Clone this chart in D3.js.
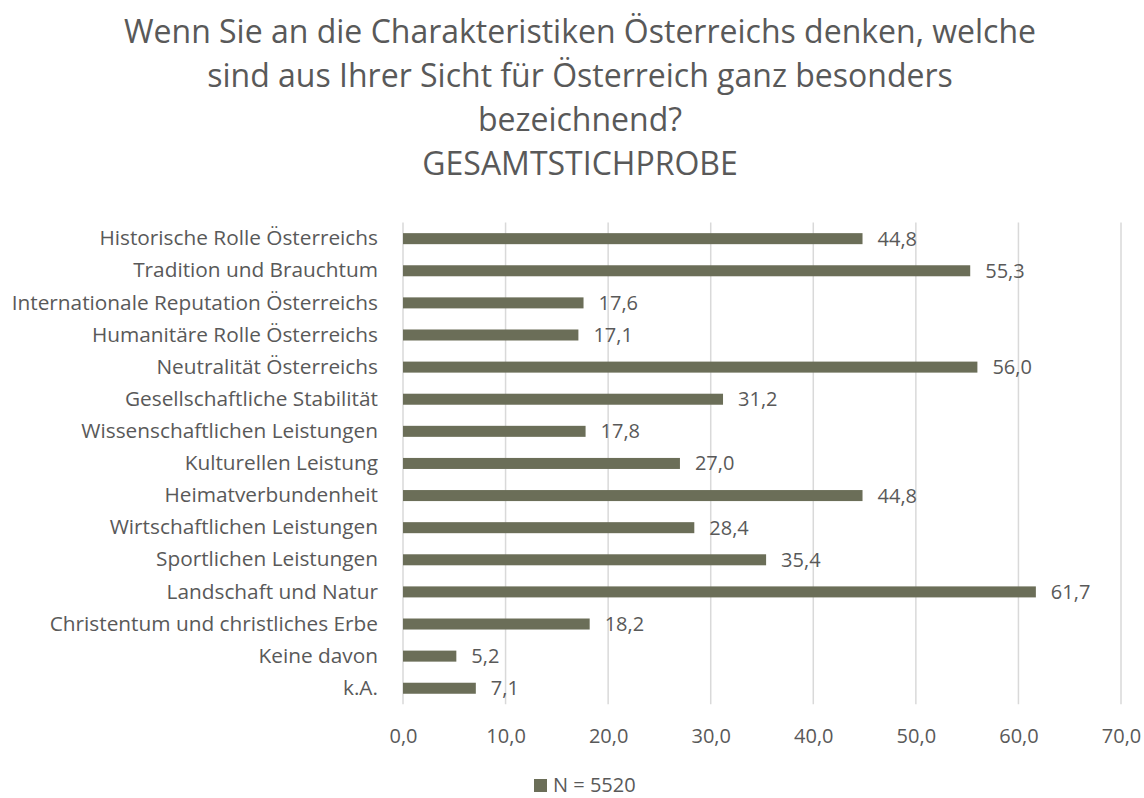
<!DOCTYPE html>
<html>
<head>
<meta charset="utf-8">
<script src="https://cdn.jsdelivr.net/npm/d3@7"></script>
<style>
  body { margin: 0; background: #fff; }
  text { font-family: "Open Sans", sans-serif; fill: #595959; }
</style>
</head>
<body>
<div id="chart-area"></div>
<script>
var categories = [
  "Historische Rolle Österreichs",
  "Tradition und Brauchtum",
  "Internationale Reputation Österreichs",
  "Humanitäre Rolle Österreichs",
  "Neutralität Österreichs",
  "Gesellschaftliche Stabilität",
  "Wissenschaftlichen Leistungen",
  "Kulturellen Leistung",
  "Heimatverbundenheit",
  "Wirtschaftlichen Leistungen",
  "Sportlichen Leistungen",
  "Landschaft und Natur",
  "Christentum und christliches Erbe",
  "Keine davon",
  "k.A."
];
var values = [44.8, 55.3, 17.6, 17.1, 56.0, 31.2, 17.8, 27.0, 44.8, 28.4, 35.4, 61.7, 18.2, 5.2, 7.1];
var xTicks = [0, 10, 20, 30, 40, 50, 60, 70];
var titleLines = [
  "Wenn Sie an die Charakteristiken Österreichs denken, welche",
  "sind aus Ihrer Sicht für Österreich ganz besonders",
  "bezeichnend?",
  "GESAMTSTICHPROBE"
];
var seriesName = "N = 5520";

var margin = {left: 403, right: 23, top: 222.6, bottom: 94};
var width = 1144 - margin.left - margin.right,
    height = 481.7;

var fmt = function(d){ return d3.format(".1f")(d).replace(".", ",") };

var svg = d3.select("#chart-area")
  .append("svg")
    .attr("width", 1144)
    .attr("height", 798);

// title
svg.append("g")
  .selectAll("text")
  .data(titleLines)
  .enter()
  .append("text")
    .attr("x", 580)
    .attr("y", function(d, i){ return 43 + i * 44 })
    .attr("text-anchor", "middle")
    .attr("font-size", "32px")
    .text(function(d){ return d });

var group = svg.append("g")
  .attr("transform", "translate(" + margin.left + ", " + margin.top + ")");

var x = d3.scaleLinear()
  .domain([0, 70])
  .range([0, width]);

var y = d3.scaleBand()
  .domain(categories)
  .range([0, height])
  .paddingInner(0.657)
  .paddingOuter(0.3285);

// gridlines
group.append("g")
  .selectAll("line")
  .data(xTicks)
  .enter()
  .append("line")
    .attr("x1", function(d){ return x(d) })
    .attr("x2", function(d){ return x(d) })
    .attr("y1", 0)
    .attr("y2", height)
    .attr("stroke", "#d9d9d9")
    .attr("stroke-width", 1.5);

// x axis labels
var xAxisCall = d3.axisBottom(x)
  .tickValues(xTicks)
  .tickSize(0)
  .tickPadding(25)
  .tickFormat(fmt);
group.append("g")
  .attr("class", "x axis")
  .attr("transform", "translate(0, " + height + ")")
  .call(xAxisCall)
  .call(function(g){ g.select(".domain").remove() })
  .selectAll("text")
    .attr("font-size", "20px")
    .attr("font-family", "Open Sans")
    .attr("fill", "#595959");

// y axis labels
var yAxisCall = d3.axisLeft(y)
  .tickSize(0)
  .tickPadding(25);
group.append("g")
  .attr("class", "y axis")
  .call(yAxisCall)
  .call(function(g){ g.select(".domain").remove() })
  .selectAll("text")
    .attr("font-size", "20.8px")
    .attr("font-family", "Open Sans")
    .attr("fill", "#595959");

// bars
group.selectAll("rect.bar")
  .data(values)
  .enter()
  .append("rect")
    .attr("class", "bar")
    .attr("x", 0)
    .attr("y", function(d, i){ return y(categories[i]) })
    .attr("width", function(d){ return x(d) })
    .attr("height", y.bandwidth())
    .attr("fill", "#6b6e58");

// value labels
group.selectAll("text.val")
  .data(values)
  .enter()
  .append("text")
    .attr("class", "val")
    .attr("x", function(d){ return x(d) + 15 })
    .attr("y", function(d, i){ return y(categories[i]) + y.bandwidth() / 2 })
    .attr("dy", "0.35em")
    .attr("font-size", "20px")
    .text(fmt);

// legend (kept just inside the bottom edge)
var legend = svg.append("g")
  .attr("transform", "translate(534, 779)");
legend.append("rect")
  .attr("width", 13)
  .attr("height", 13)
  .attr("fill", "#6b6e58");
legend.append("text")
  .attr("x", 19)
  .attr("y", 13)
  .attr("font-size", "20px")
  .text(seriesName);
</script>
</body>
</html>
